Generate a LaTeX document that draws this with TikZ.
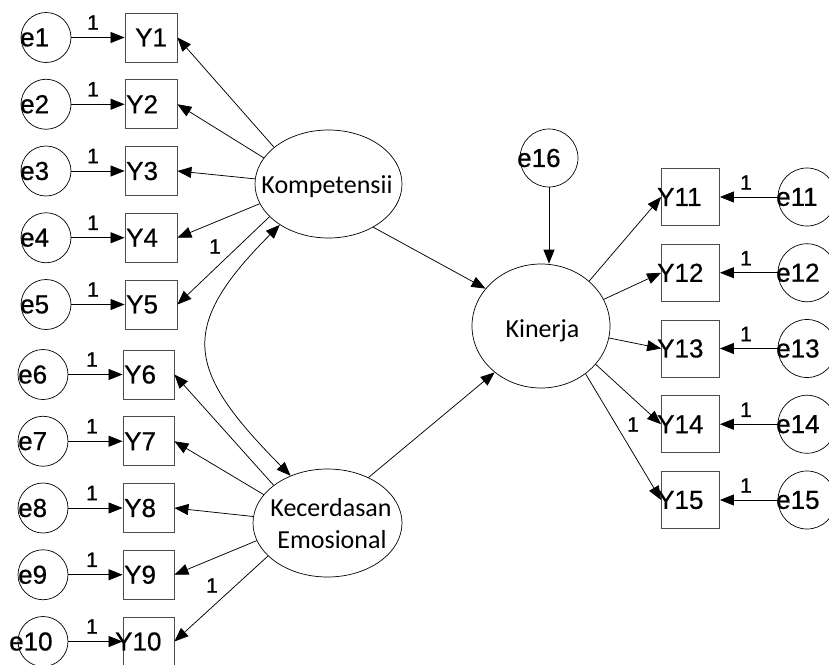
\documentclass[tikz,border=0pt]{standalone}
\usepackage{fontspec}
\setmainfont{Liberation Sans}[UprightFeatures={FakeBold=0.6}]
\newfontfamily\latfont{Carlito}
\usetikzlibrary{shapes.geometric,arrows.meta}
\begin{document}
\begin{tikzpicture}[x=1pt,y=-1pt,
 obs/.style={rectangle,draw=black!70,line width=0.8pt,inner sep=0pt,minimum width=52pt,minimum height=49pt},
 obsr/.style={obs,minimum width=58pt,minimum height=57pt},
 err/.style={circle,draw,line width=0.7pt,inner sep=0pt,minimum size=50pt},
 errr/.style={err,minimum size=58pt},
 lat/.style={ellipse,draw,line width=0.7pt,inner sep=0pt},
 txt/.style={inner sep=0pt,anchor=west,font=\fontsize{26}{30}\selectfont},
 lattxt/.style={inner sep=0pt,anchor=base,font=\latfont\fontsize{26}{32}\selectfont},
 one/.style={inner sep=0pt,font=\fontsize{21}{24}\selectfont},
 arr/.style={line width=0.75pt,-{Triangle[length=14pt,width=11pt]}},
 cov/.style={line width=0.75pt,{Triangle[length=14pt,width=11pt]}-{Triangle[length=14pt,width=11pt]}}
]
\useasboundingbox (0,0) rectangle (829,664);
% upper indicators
\foreach \i/\y/\tx in {1/37.5/135,2/104.25/126,3/171/126,4/237.75/126,5/304.5/126}{
  \node[err] (e\i) at (46,\y) {};
  \node[obs] (Y\i) at (151,\y) {};
  \node[txt] (te\i) at (20,\y) {e\i};
  \node[txt] (tY\i) at (\tx,\y) {Y\i};
  \node[one] (o\i) at (93,{\y-15}) {1};
  \draw[arr] (e\i) -- (Y\i);
}
% lower indicators
\foreach \i/\y/\tx/\ex in {6/374.5/124/18,7/441.25/124/18,8/508/124/18,9/574.75/124/18,10/641.5/115/9}{
  \node[err] (e\i) at (43,\y) {};
  \node[obs,minimum width=51pt] (Y\i) at (148.5,\y) {};
  \node[txt] (te\i) at (\ex,\y) {e\i};
  \node[txt] (tY\i) at (\tx,\y) {Y\i};
  \node[one] (o\i) at (92,{\y-15}) {1};
  \draw[arr] (e\i) -- (Y\i);
}
% right indicators
\foreach \i/\y in {11/197,12/272.75,13/348.5,14/424.25,15/500}{
  \node[obsr] (Y\i) at (690.5,\y) {};
  \node[errr] (e\i) at (807,\y) {};
  \node[txt] (tY\i) at (657,\y) {Y\i};
  \node[txt] (te\i) at (776,\y) {e\i};
  \node[one] (o\i) at (746,{\y-14.5}) {1};
  \draw[arr] (e\i) -- (Y\i);
}
% latent variables
\node[lat,minimum width=147pt,minimum height=108pt] (K) at (328.5,184) {};
\node[lattxt] (tK) at (327,193) {Kompetensii};
\node[lat,minimum width=149pt,minimum height=108pt] (KE) at (327.5,523) {};
\node[lattxt] (tKE1) at (331,516) {Kecerdasan};
\node[lattxt] (tKE2) at (332,548) {Emosional};
\node[lat,minimum width=138pt,minimum height=124pt] (KI) at (541,326) {};
\node[lattxt] (tKI) at (542.5,337) {Kinerja};
\node[errr] (e16) at (549,158) {};
\node[txt] (te16) at (517,158) {e16};
% loadings
\draw[arr] (K.146.8) -- (Y1.east);
\draw[arr] (K.158) -- (Y2.east);
\draw[arr] (K.176) -- (Y3.east);
\draw[arr] (K.196.6) -- (Y4.east);
\draw[arr] (K.209) -- (Y5.east);
\draw[arr] (KE.145.2) -- (Y6.east);
\draw[arr] (KE.156.7) -- (Y7.east);
\draw[arr] (KE.175.4) -- (Y8.east);
\draw[arr] (KE.194.3) -- (Y9.east);
\draw[arr] (KE.209.3) -- (Y10.east);
\draw[arr] (KI.43.3) -- (Y11.west);
\draw[arr] (KI.23) -- (Y12.west);
\draw[arr] (KI.350) -- (Y13.west);
\draw[arr] (KI.325) -- (Y14.west);
\draw[arr] (KI.313) -- (Y15.west);
% structural paths
\draw[arr] (K.316.6) -- (KI.146.3);
\draw[arr] (KE.48) -- (KI.225.6);
\draw[arr] (e16.south) -- (KI.north -| e16.south);
% covariance
\draw[cov] (K.220) .. controls (177,328) and (186,370) .. (KE.128);
% fixed loadings
\node[one] (oK) at (215,246.5) {1};
\node[one] (oKE) at (212,585.5) {1};
\node[one] (oKI) at (633,424.5) {1};
\end{tikzpicture}
\end{document}
